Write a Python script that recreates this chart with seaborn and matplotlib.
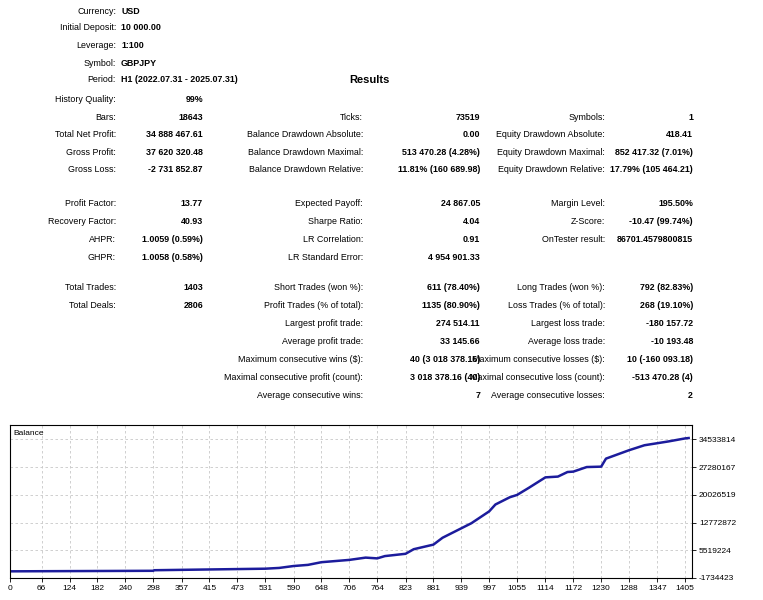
import matplotlib
matplotlib.use("Agg")
import matplotlib.pyplot as plt
import seaborn as sns
import pandas as pd

W, H = 763, 600
trades = [0, 298, 300, 415, 531, 560, 590, 620, 648, 706, 740, 764, 780, 823, 840, 881, 900, 930, 960,
          997, 1010, 1040, 1055, 1080, 1114, 1140, 1160, 1172, 1200, 1230, 1240, 1288, 1320, 1370, 1405, 1412]
balance_m = [0.01, 0.15, 0.3, 0.5, 0.7, 0.9, 1.4, 1.7, 2.4, 3.0, 3.6, 3.4, 4.0, 4.6, 5.8, 7.0, 8.8, 10.7, 12.6,
             15.7, 17.5, 19.4, 20.0, 21.9, 24.6, 24.8, 26.0, 26.1, 27.3, 27.4, 29.5, 31.7, 33.0, 34.0, 34.8, 34.89]
x_ticks = [0, 66, 124, 182, 240, 298, 357, 415, 473, 531, 590, 648, 706, 764, 823, 881, 939, 997, 1055,
           1114, 1172, 1230, 1288, 1347, 1405]
y_ticks = [-1734423, 5519224, 12772872, 20026519, 27280167, 34533814]

top_info = [("Currency:", "USD"), ("Initial Deposit:", "10 000.00"), ("Leverage:", "1:100"),
            ("Symbol:", "GBPJPY"), ("Period:", "H1 (2022.07.31 - 2025.07.31)")]
col1 = [(117, "Bars:", "18643"), (134, "Total Net Profit:", "34 888 467.61"), (152, "Gross Profit:", "37 620 320.48"),
        (170, "Gross Loss:", "-2 731 852.87"), (203, "Profit Factor:", "13.77"), (221, "Recovery Factor:", "40.93"),
        (239, "AHPR:", "1.0059 (0.59%)"), (257, "GHPR:", "1.0058 (0.58%)"), (288, "Total Trades:", "1403"),
        (306, "Total Deals:", "2806")]
col2 = [(117, "Ticks:", "73519"), (134, "Balance Drawdown Absolute:", "0.00"),
        (152, "Balance Drawdown Maximal:", "513 470.28 (4.28%)"), (170, "Balance Drawdown Relative:", "11.81% (160 689.98)"),
        (203, "Expected Payoff:", "24 867.05"), (221, "Sharpe Ratio:", "4.04"), (239, "LR Correlation:", "0.91"),
        (257, "LR Standard Error:", "4 954 901.33"), (288, "Short Trades (won %):", "611 (78.40%)"),
        (306, "Profit Trades (% of total):", "1135 (80.90%)"), (324, "Largest profit trade:", "274 514.11"),
        (342, "Average profit trade:", "33 145.66"), (359, "Maximum consecutive wins ($):", "40 (3 018 378.16)"),
        (377, "Maximal consecutive profit (count):", "3 018 378.16 (40)"), (395, "Average consecutive wins:", "7")]
col3 = [(117, "Symbols:", "1"), (134, "Equity Drawdown Absolute:", "418.41"),
        (152, "Equity Drawdown Maximal:", "852 417.32 (7.01%)"), (170, "Equity Drawdown Relative:", "17.79% (105 464.21)"),
        (203, "Margin Level:", "195.50%"), (221, "Z-Score:", "-10.47 (99.74%)"), (239, "OnTester result:", "86701.4579800815"),
        (288, "Long Trades (won %):", "792 (82.83%)"), (306, "Loss Trades (% of total):", "268 (19.10%)"),
        (324, "Largest loss trade:", "-180 157.72"), (342, "Average loss trade:", "-10 193.48"),
        (359, "Maximum consecutive losses ($):", "10 (-160 093.18)"),
        (377, "Maximal consecutive loss (count):", "-513 470.28 (4)"), (395, "Average consecutive losses:", "2")]

plt.rcParams["font.family"] = "Liberation Sans"
fig = plt.figure(figsize=(W / 100, H / 100), dpi=100)
fs = 6.4

def T(x, y, s, ha="right", bold=False, size=fs):
    fig.text(x / W, 1 - y / H, s, ha=ha, va="center", fontsize=size,
             fontweight="bold" if bold else "normal", color="black")

for i, (lab, val) in enumerate(top_info):
    y = [11, 28, 46, 63, 80][i]
    T(116, y, lab)
    T(121, y, val, ha="left", bold=True)
T(349, 80, "Results", ha="left", bold=True, size=8)
T(116, 99, "History Quality:")
T(203, 99, "99%", bold=True)
for y, l, v in col1:
    T(116, y, l); T(203, y, v, bold=True)
for y, l, v in col2:
    T(363, y, l); T(480, y, v, bold=True)
for y, l, v in col3:
    T(605, y, l); T(693, y, v, bold=True)

ax = fig.add_axes([10 / W, 1 - 578 / H, 682 / W, 153 / H])
df = pd.DataFrame({"trade": trades, "balance": [b * 1e6 for b in balance_m]})
sns.lineplot(data=df, x="trade", y="balance", ax=ax, color="#1c1c9c", linewidth=1.8)
ax.set_xlim(0, 1419)
ax.set_ylim(-1734423, 38300000)
ax.set_xticks(x_ticks)
ax.set_xticklabels([str(t) for t in x_ticks], fontsize=6)
ax.set_yticks(y_ticks)
ax.set_yticklabels([str(t) for t in y_ticks], fontsize=6)
ax.yaxis.tick_right()
ax.tick_params(length=3, width=0.6, pad=2)
ax.set_xlabel(""); ax.set_ylabel("")
ax.grid(True, linestyle=(0, (3, 3)), color="#c8c8c8", linewidth=0.6)
for s in ax.spines.values():
    s.set_color("black"); s.set_linewidth(0.8)
ax.text(0.005, 0.97, "Balance", transform=ax.transAxes, fontsize=6, va="top", ha="left")
fig.savefig("out.png", dpi=100)
